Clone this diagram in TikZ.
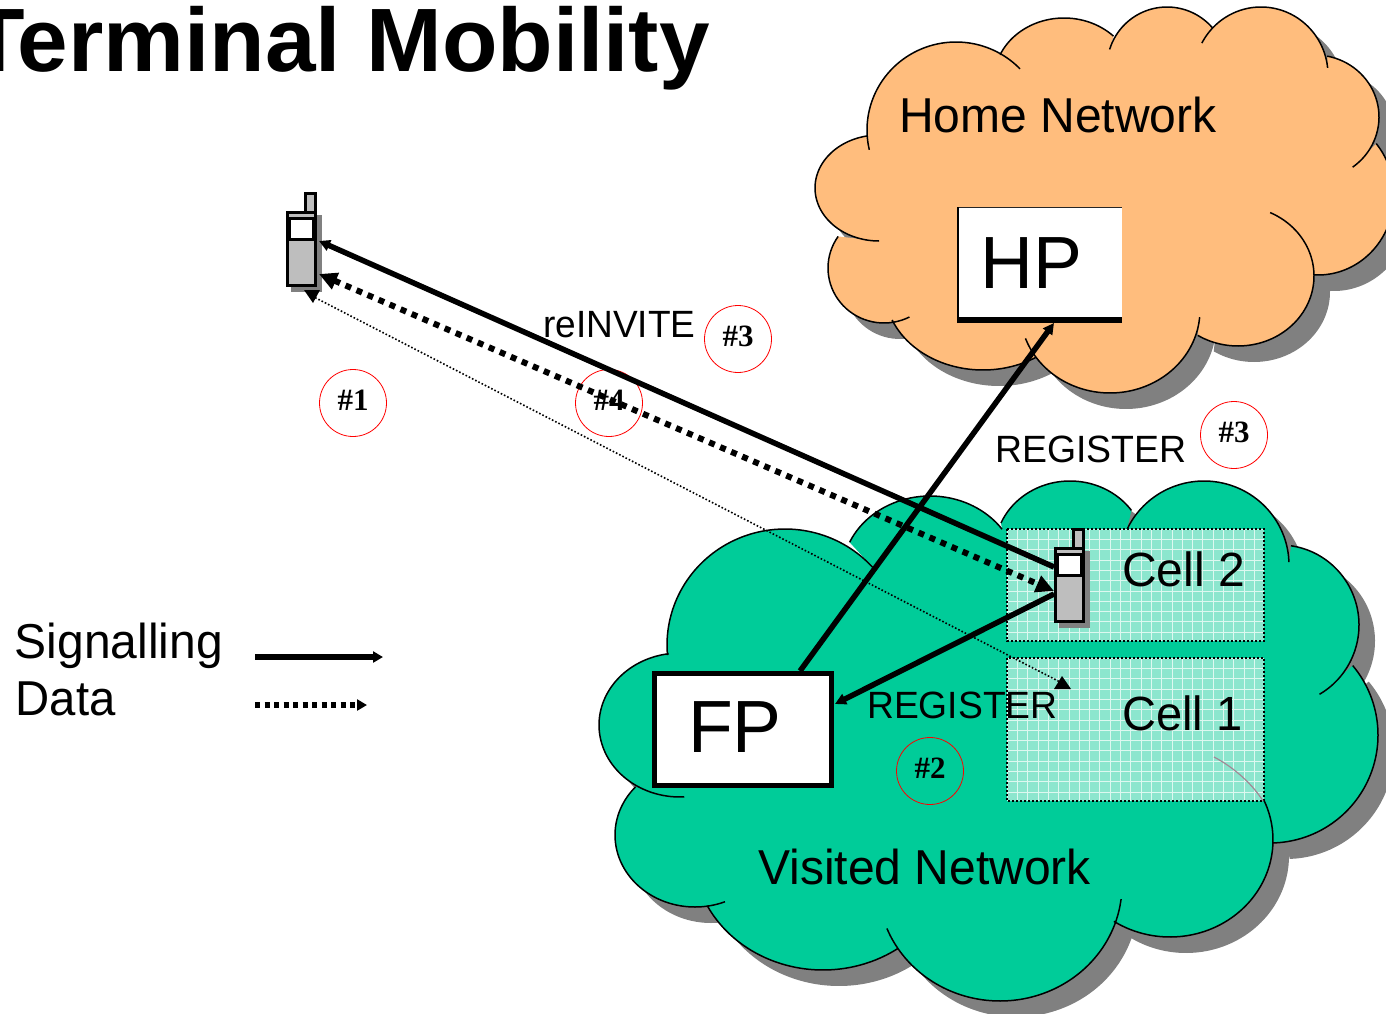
\documentclass[tikz,border=0pt]{standalone}
\usepackage{fontspec}
\setmainfont{Liberation Sans}
\newfontfamily\serfont{Liberation Serif}
\usetikzlibrary{arrows.meta}
\definecolor{homefill}{HTML}{FFBD7D}
\definecolor{visitfill}{HTML}{00CC99}
\definecolor{cellfill}{HTML}{8CE6CE}
\definecolor{shadowgray}{HTML}{808080}
\definecolor{phonegray}{HTML}{BEBEBE}
\definecolor{faintarc}{HTML}{A08A96}
\newcommand\homecloud[1]{
 plot[domain=167:316,samples=36,variable=\t,smooth] ({956+89*cos(\t)},{130+88*sin(\t)})
 #1 plot[domain=204:315,samples=36,variable=\t,smooth] ({1064+70*cos(\t)},{80+62*sin(\t)})
 #1 plot[domain=197:320,samples=36,variable=\t,smooth] ({1167+60*cos(\t)},{67+60*sin(\t)})
 #1 plot[domain=208:354,samples=36,variable=\t,smooth] ({1261+67*cos(\t)},{75+68*sin(\t)})
 #1 plot[domain=281:414,samples=36,variable=\t,smooth] ({1315+64*cos(\t)},{117+62*sin(\t)})
 #1 plot[domain=320:453,samples=36,variable=\t,smooth] ({1318+76*cos(\t)},{195+80*sin(\t)})
 #1 plot[domain=295:482,samples=36,variable=\t,smooth] ({1238+76*cos(\t)},{276+70*sin(\t)})
 #1 plot[domain=5:160,samples=36,variable=\t,smooth] ({1110+90*cos(\t)},{310+83*sin(\t)})
 #1 plot[domain=57:158,samples=36,variable=\t,smooth] ({983+98*cos(\t)},{290+80*sin(\t)})
 #1 plot[domain=63:215,samples=36,variable=\t,smooth] ({884+56*cos(\t)},{268+55*sin(\t)})
 #1 plot[domain=90:260,samples=36,variable=\t,smooth] ({879+64*cos(\t)},{188+53*sin(\t)})
}
\newcommand\visitcloud[1]{
 plot[domain=175:318,samples=36,variable=\t,smooth] ({785+118*cos(\t)},{645+116*sin(\t)})
 #1 plot[domain=204:325,samples=36,variable=\t,smooth] ({930+88*cos(\t)},{574+78*sin(\t)})
 #1 plot[domain=203:325,samples=36,variable=\t,smooth] ({1070+75*cos(\t)},{550+69*sin(\t)})
 #1 plot[domain=205:358,samples=36,variable=\t,smooth] ({1204+85*cos(\t)},{565+84*sin(\t)})
 #1 plot[domain=278:420,samples=36,variable=\t,smooth] ({1280+79*cos(\t)},{625+80*sin(\t)})
 #1 plot[domain=320:448,samples=36,variable=\t,smooth] ({1270+108*cos(\t)},{735+108*sin(\t)})
 #1 plot[domain=336:483,samples=36,variable=\t,smooth] ({1170+103*cos(\t)},{840+97*sin(\t)})
 #1 plot[domain=7:158,samples=36,variable=\t,smooth] ({1000+122*cos(\t)},{885+116*sin(\t)})
 #1 plot[domain=55:153,samples=36,variable=\t,smooth] ({823+130*cos(\t)},{852+118*sin(\t)})
 #1 plot[domain=68:222,samples=36,variable=\t,smooth] ({695+80*cos(\t)},{835+72*sin(\t)})
 #1 plot[domain=87:262,samples=36,variable=\t,smooth] ({680+81*cos(\t)},{725+72*sin(\t)})
}
\tikzset{
 x=1pt,y=-1pt,
 outline/.style={draw=black,line width=1.5pt},
 txt/.style={inner sep=0pt,anchor=base west,text=black},
 bigtxt/.style={txt,font=\fontsize{49}{49}\selectfont},
 cellname/.style={txt,font=\fontsize{48}{48}\selectfont,transform shape},
 smalltxt/.style={txt,font=\fontsize{38}{38}\selectfont},
 hugetxt/.style={txt,font=\fontsize{74}{74}\selectfont,xscale=.99,transform shape},
 redmark/.style={circle,draw=red,line width=.8pt,minimum size=67pt,inner sep=0pt,
   font=\serfont\bfseries\fontsize{31}{31}\selectfont},
 sig/.style={line width=5.5pt,black},
 smallhead/.style={-{Triangle[length=11pt,width=11pt]}},
 dat/.style={line width=6pt,black,dash pattern=on 6pt off 6pt},
 thindots/.style={line width=1.6pt,black,dash pattern=on 1.6pt off 2pt},
 cellbox/.style={fill=cellfill},
 cellgrid/.style={draw=white!70!cellfill,line width=.5pt,xstep=10.3pt,ystep=10.3pt},
 celledge/.style={draw=black,line width=2pt,dash pattern=on 2pt off 2pt},
 phone/.pic={
  \fill[shadowgray] (5,4) rectangle (36,81);
  \draw[black,line width=3pt,fill=phonegray] (19.5,-17.5) rectangle (29.5,1);
  \draw[black,line width=3pt,fill=phonegray] (1.5,1.5) rectangle (29.5,74.5);
  \draw[black,line width=3pt,fill=white] (3.5,7) rectangle (27.5,28.5);
  \coordinate (-e1) at (33,30);
  \coordinate (-e2) at (33,63);
  \coordinate (-w1) at (0,20);
  \coordinate (-w2) at (0,44);
  \coordinate (-w3) at (0,47);
 }
}
\begin{document}
\begin{tikzpicture}
\useasboundingbox (0,0) rectangle (1386,1014);
\clip (0,0) rectangle (1386,1014);
% home cloud
\fill[shadowgray,shift={(16,16)}] \homecloud{--} -- cycle;
\fill[homefill] \homecloud{--} -- cycle;
\draw[outline] \homecloud{};
% visited cloud
\fill[shadowgray,shift={(16,16)}] \visitcloud{--} -- cycle;
\fill[visitfill] \visitcloud{--} -- cycle;
\draw[outline] \visitcloud{};
% cells
\fill[cellbox] (1007,529) rectangle (1264,641);
\fill[cellbox] (1007,658) rectangle (1264,801);
\begin{scope}
 \clip (1007,529) rectangle (1264,641);
 \draw[cellgrid,shift={(1007,529)}] (0,0) grid (257,112);
\end{scope}
\begin{scope}
 \clip (1007,658) rectangle (1264,801);
 \draw[cellgrid,shift={(1007,658)}] (0,0) grid (257,143);
\end{scope}
\draw[celledge] (1007,529) rectangle (1264,641);
\draw[celledge] (1007,658) rectangle (1264,801);
\draw[faintarc,line width=1.2pt] (1214,757) .. controls (1235,768) and (1253,785) .. (1263,801);
% boxes
\node[draw=none,fill=white,minimum width=165pt,minimum height=116pt,inner sep=0pt,outer sep=0pt,anchor=north west] (hp) at (957,207) {};
\draw[black!85,line width=1pt] (957.5,323) -- (957.5,207.5) -- (1122,207.5);
\draw[black,line width=2pt] (958,207) -- (958,323);
\fill[black] (957,317) rectangle (1122,323);
\node[draw=black,line width=5pt,fill=white,minimum width=177pt,minimum height=112pt,inner sep=0pt,anchor=north west] (fp) at (652,671) {};
% red marks
\node[redmark] (m1) at (353,403) {\raisebox{5pt}{\#1}};
\node[redmark] (m3a) at (738,339) {\raisebox{5pt}{\#3}};
\node[redmark] (m4) at (609,403) {\raisebox{5pt}{\#4}};
\node[redmark] (m3b) at (1234,435) {\raisebox{5pt}{\#3}};
\node[redmark] (m2) at (930,771) {\raisebox{5pt}{\#2}};
% phones
\pic (top) at (286,211) {phone};
\pic (bot) at (1054,547) {phone};
% connectors
\coordinate (hptip) at (1054,323);
\coordinate (fptop) at (800,671);
\coordinate (fptip) at (835,704);
\coordinate (topd) at (312,296);
\coordinate (celld) at (1062,683);
\draw[sig,smallhead] (fptop) -- (hptip);
\draw[sig,smallhead] (bot-w3) -- (fptip);
\draw[sig,smallhead] (bot-w1) -- (top-e1);
\draw[dat,{Triangle[length=18pt,width=17pt]}-{Triangle[length=18pt,width=17pt]}] (top-e2) -- (bot-w2);
\draw[thindots] (topd) -- (celld);
\fill[black] (304,290) -- (320,290) -- (313,303) -- cycle;
\fill[black] (1054,689) -- (1071,689) -- (1062,676) -- cycle;
% legend
\coordinate (l1a) at (255,657);
\coordinate (l1b) at (383,657);
\coordinate (l2a) at (255,705);
\coordinate (l2b) at (367,705);
\draw[sig,-{Triangle[length=10pt,width=11pt]}] (l1a) -- (l1b);
\draw[sig,dash pattern=on 5pt off 4.5pt,-{Triangle[length=10pt,width=11pt]}] (l2a) -- (l2b);
% text
\node[txt,font=\bfseries\fontsize{90}{90}\selectfont,anchor=base east,xscale=1.01,transform shape] (title) at (710,72) {Terminal Mobility};
\node[bigtxt,xscale=.98,transform shape] (home) at (899,132) {Home Network};
\node[bigtxt,xscale=.98,transform shape] (visited) at (758,884) {Visited Network};
\node[bigtxt,xscale=.98,transform shape] (sl) at (14.5,658) {Signalling};
\node[bigtxt,xscale=.965,transform shape] (dl) at (15.5,715) {Data};
\node[hugetxt] (hpt) at (980,288) {HP};
\node[hugetxt] (fpt) at (688,752) {FP};
\node[cellname] (c2) at (1122,586) {Cell 2};
\node[cellname,xscale=.98] (c1) at (1122,730) {Cell 1};
\node[smalltxt,xscale=.985,transform shape] (r1) at (995,462) {REGISTER};
\node[smalltxt,xscale=.98,transform shape] (r2) at (867,718) {REGISTER};
\node[smalltxt,xscale=.975,transform shape] (ri) at (543,337) {reINVITE};
\end{tikzpicture}
\end{document}
